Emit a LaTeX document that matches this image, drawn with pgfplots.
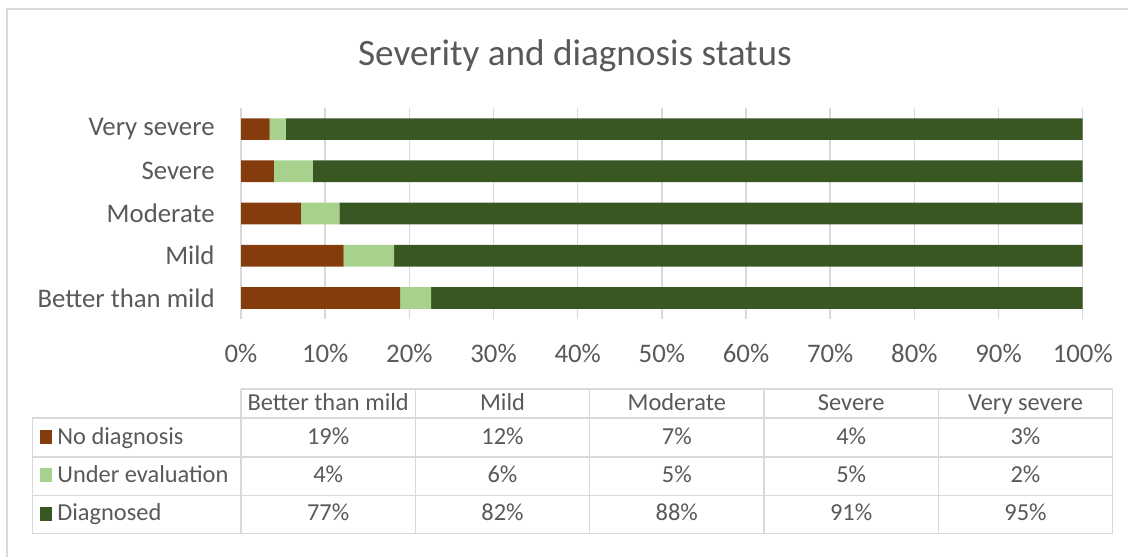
\documentclass[border=0pt]{standalone}
\usepackage{fontspec}
\setmainfont{Carlito}
\usepackage{pgfplots}
\usepackage{pgfplotstable}
\pgfplotsset{compat=1.18}

\definecolor{nodiag}{HTML}{843C0C}
\definecolor{undereval}{HTML}{A9D18E}
\definecolor{diag}{HTML}{385723}
\definecolor{txt}{HTML}{595959}
\definecolor{gridc}{HTML}{D9D9D9}

% shares (0 = Better than mild ... 4 = Very severe)
\pgfplotstableread{
y nodiag under diag
0 18.9 3.7 77.4
1 12.2 6.0 81.8
2 7.1  4.6 88.3
3 3.9  4.6 91.5
4 3.4  1.9 94.7
}\sevtable

\begin{document}
\begin{tikzpicture}
% frame and title, in pixel units of the reference
\begin{scope}[x=0.5pt,y=-0.5pt]
  \path[use as bounding box] (0,0) rectangle (1128,557);
  \draw[gridc, line width=0.75pt] (7,557) -- (7,9) -- (1128,9);
  \node[txt, anchor=base, inner sep=0pt, font=\fontsize{18.6}{22}\selectfont]
    at (575,65) {Severity and diagnosis status};
\end{scope}

\begin{axis}[
  at={(120.5pt,-54pt)}, anchor=north west,
  scale only axis, width=420.85pt, height=105.5pt,
  xbar stacked, bar width=10.85pt,
  xmin=0, xmax=100, ymin=-0.5, ymax=4.5,
  axis line style={draw=none},
  major tick length=0pt,
  xtick={0,10,...,100},
  xticklabels={0\%,10\%,20\%,30\%,40\%,50\%,60\%,70\%,80\%,90\%,100\%},
  ytick={0,1,2,3,4},
  yticklabels={Better than mild,Mild,Moderate,Severe,Very severe},
  xmajorgrids,
  grid style={gridc, line width=0.75pt},
  tick label style={txt, font=\fontsize{13.4}{16}\selectfont, inner sep=0pt},
  xticklabel style={anchor=north, yshift=-12.5pt},
  yticklabel style={anchor=east, xshift=-13pt},
]
\addplot[fill=nodiag, draw=none] table[x=nodiag, y=y] {\sevtable};
\addplot[fill=undereval, draw=none] table[x=under, y=y] {\sevtable};
\addplot[fill=diag, draw=none] table[x=diag, y=y] {\sevtable};
\end{axis}

% data table under the chart
\begin{scope}[x=0.5pt,y=-0.5pt]
  \tikzset{cell/.style={txt, anchor=base, inner sep=0pt, font=\fontsize{12.2}{14.5}\selectfont}}
  \draw[gridc, line width=0.75pt]
    (241,389) -- (1112.7,389)
    (32.3,418) -- (1112.7,418)
    (32.3,457) -- (1112.7,457)
    (32.3,495.5) -- (1112.7,495.5)
    (32.3,533.3) -- (1112.7,533.3)
    (32.3,418) -- (32.3,533.3);
  \foreach \xx in {241,415.3,589.6,764,938.3,1112.7}
    \draw[gridc, line width=0.75pt] (\xx,389) -- (\xx,533.3);
  % header
  \foreach \cx/\lab in {328.2/Better than mild, 502.5/Mild, 676.8/Moderate, 851.2/Severe, 1025.5/Very severe}
    \node[cell] at (\cx,410.7) {\lab};
  % row labels with legend keys
  \fill[nodiag] (40,430) rectangle (52.3,444);
  \node[cell, anchor=base west] at (57,444) {No diagnosis};
  \fill[undereval] (40,468.3) rectangle (52.3,482.3);
  \node[cell, anchor=base west] at (57,482.3) {Under evaluation};
  \fill[diag] (40,506.7) rectangle (52.3,520.7);
  \node[cell, anchor=base west] at (57,520.7) {Diagnosed};
  % values
  \foreach \cx/\a/\b/\c in {328.2/19/4/77, 502.5/12/6/82, 676.8/7/5/88, 851.2/4/5/91, 1025.5/3/2/95} {
    \node[cell] at (\cx,444) {\a\%};
    \node[cell] at (\cx,482.3) {\b\%};
    \node[cell] at (\cx,520.7) {\c\%};
  }
\end{scope}
\end{tikzpicture}
\end{document}
